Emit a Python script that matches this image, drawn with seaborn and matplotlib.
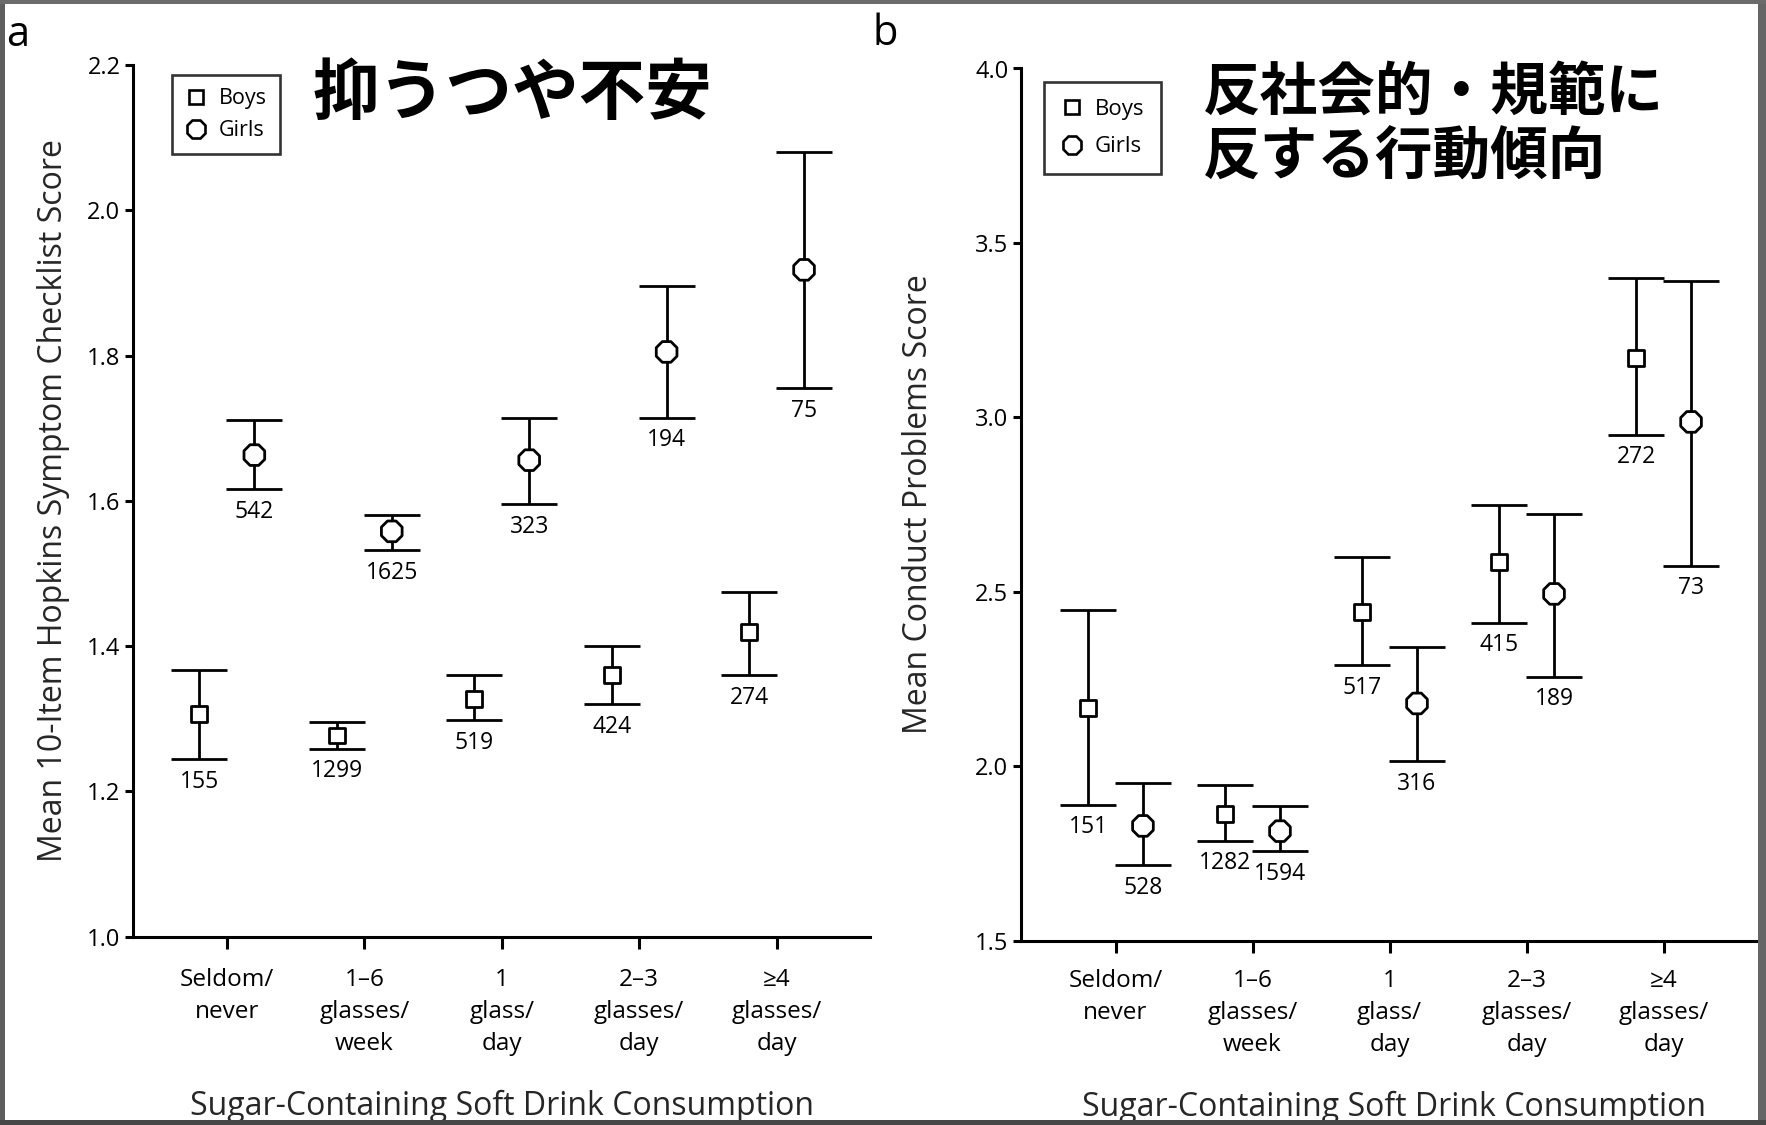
import numpy as np
import pandas as pd
import seaborn as sns
import matplotlib
matplotlib.use('Agg')
import matplotlib.pyplot as plt
from matplotlib.lines import Line2D
from matplotlib.patches import Rectangle

# ---- data ----
categories = ["Seldom/\nnever", "1\u20136\nglasses/\nweek", "1\nglass/\nday",
              "2\u20133\nglasses/\nday", "\u22654\nglasses/\nday"]

# panel a: depression / anxiety (Hopkins checklist)
dep_boys_mean = [1.306, 1.277, 1.327, 1.360, 1.419]
dep_boys_lo = [1.244, 1.259, 1.298, 1.320, 1.360]
dep_boys_hi = [1.367, 1.296, 1.360, 1.400, 1.474]
dep_boys_n = [155, 1299, 519, 424, 274]
dep_girls_mean = [1.663, 1.558, 1.656, 1.805, 1.918]
dep_girls_lo = [1.616, 1.532, 1.595, 1.714, 1.755]
dep_girls_hi = [1.711, 1.580, 1.714, 1.896, 2.080]
dep_girls_n = [542, 1625, 323, 194, 75]

# panel b: conduct problems
con_boys_mean = [2.166, 1.862, 2.441, 2.585, 3.170]
con_boys_lo = [1.890, 1.786, 2.289, 2.411, 2.950]
con_boys_hi = [2.448, 1.946, 2.601, 2.750, 3.400]
con_boys_n = [151, 1282, 517, 415, 272]
con_girls_mean = [1.829, 1.814, 2.180, 2.494, 2.987]
con_girls_lo = [1.716, 1.756, 2.014, 2.256, 2.575]
con_girls_hi = [1.952, 1.885, 2.342, 2.722, 3.392]
con_girls_n = [528, 1594, 316, 189, 73]

W, H = 1766, 1125
OFFSET = {'Boys': -0.2, 'Girls': 0.2}


def build_frame(boys, girls):
    rows = []
    for sex, (m, lo, hi, n) in (('Boys', boys), ('Girls', girls)):
        for i in range(len(categories)):
            rows.append({'cat': i, 'sex': sex, 'xpos': i + OFFSET[sex],
                         'mean': m[i], 'lo': lo[i], 'hi': hi[i], 'n': n[i]})
    return pd.DataFrame(rows)


def draw_panel(ax, df, xpad):
    for sex in ('Boys', 'Girls'):
        d = df[df['sex'] == sex]
        ax.errorbar(d['xpos'], d['mean'],
                    yerr=[d['mean'] - d['lo'], d['hi'] - d['mean']],
                    fmt='none', ecolor='black', elinewidth=2.0,
                    capsize=20, capthick=2.0, zorder=2)
        for _, r in d.iterrows():
            ax.annotate(str(r['n']), (r['xpos'], r['lo']), xytext=(0, -7.5),
                        textcoords='offset points', ha='center', va='top',
                        fontsize=16.5)
    sns.scatterplot(data=df, x='xpos', y='mean', style='sex',
                    markers={'Boys': 's', 'Girls': '8'},
                    size='sex', sizes={'Boys': 130, 'Girls': 260},
                    color='white', edgecolor='black', linewidth=2.0,
                    legend=False, ax=ax, zorder=4)
    ax.set_xticks(range(len(categories)))
    ax.set_xticklabels(categories, linespacing=1.45, fontsize=17.5)
    ax.tick_params(axis='x', length=8.6, width=2.2, pad=xpad)
    ax.tick_params(axis='y', length=6, width=2.2, pad=3, labelsize=17)
    sns.despine(ax=ax)
    ax.set_xlabel('Sugar-Containing Soft Drink Consumption', fontsize=23, va='center')


sns.set_theme(style="ticks")
plt.rcParams['font.family'] = ['Open Sans', 'DejaVu Sans']
plt.rcParams['axes.linewidth'] = 2.2
plt.rcParams['axes.edgecolor'] = 'black'
plt.rcParams['xtick.color'] = 'black'
plt.rcParams['ytick.color'] = 'black'
plt.rcParams['text.color'] = 'black'

fig = plt.figure(figsize=(W / 100, H / 100), dpi=100)
fig.patch.set_facecolor('white')

ax_a = fig.add_axes([133 / W, 1 - 936.7 / H, (870 - 133) / W, (936.7 - 65) / H])
ax_b = fig.add_axes([1021 / W, 1 - 940.7 / H, (1766 - 1021) / W, (940.7 - 68.5) / H])

df_a = build_frame((dep_boys_mean, dep_boys_lo, dep_boys_hi, dep_boys_n),
                   (dep_girls_mean, dep_girls_lo, dep_girls_hi, dep_girls_n))
df_b = build_frame((con_boys_mean, con_boys_lo, con_boys_hi, con_boys_n),
                   (con_girls_mean, con_girls_lo, con_girls_hi, con_girls_n))

draw_panel(ax_a, df_a, xpad=14)
draw_panel(ax_b, df_b, xpad=11.5)

ax_a.set_xlim(-0.683, 4.68)
ax_a.set_ylim(1.0, 2.2)
ax_a.set_yticks(np.arange(1.0, 2.21, 0.2))
ax_a.set_yticklabels([f'{v:.1f}' for v in np.arange(1.0, 2.21, 0.2)])
ax_a.set_ylabel('Mean 10-Item Hopkins Symptom Checklist Score', fontsize=23, va='center')
ax_a.yaxis.set_label_coords(-0.1085, 0.5)
ax_a.xaxis.set_label_coords(0.5, -0.195)

ax_b.set_xlim(-0.69, 4.747)
ax_b.set_ylim(1.5, 4.0)
ax_b.set_yticks(np.arange(1.5, 4.01, 0.5))
ax_b.set_yticklabels([f'{v:.1f}' for v in np.arange(1.5, 4.01, 0.5)])
ax_b.set_ylabel('Mean Conduct Problems Score', fontsize=23, va='center')
ax_b.yaxis.set_label_coords(-0.138, 0.5)
ax_b.xaxis.set_label_coords(0.5, -0.191)

# legends
handles = [Line2D([], [], ls='none', marker='s', ms=10.5, mfc='white', mec='black', mew=1.9),
           Line2D([], [], ls='none', marker='8', ms=14.5, mfc='white', mec='black', mew=1.9)]
for ax, anchor, bpad, lspace, fs in ((ax_a, (171.7, 75), 0.62, 0.5, 15.5),
                                      (ax_b, (1044, 82), 0.75, 0.75, 16)):
    leg = ax.legend(handles, ['Boys', 'Girls'], loc='upper left',
                    bbox_to_anchor=(anchor[0] / W, 1 - anchor[1] / H),
                    bbox_transform=fig.transFigure, borderaxespad=0,
                    frameon=True, fancybox=False, fontsize=fs,
                    borderpad=bpad, labelspacing=lspace, handlelength=1.0,
                    handletextpad=0.55)
    leg.get_frame().set_edgecolor('black')
    leg.get_frame().set_linewidth(1.9)

# Japanese titles
fig.text(313 / W, 1 - 94 / H, '抑うつや不安', fontsize=48, fontweight='bold',
         family=['Noto Sans CJK JP', 'DejaVu Sans'], ha='left', va='center')
fig.text(1203 / W, 1 - 125 / H, '反社会的・規範に\n反する行動傾向', fontsize=41.5,
         fontweight='bold', family=['Noto Sans CJK JP', 'DejaVu Sans'],
         ha='left', va='center', linespacing=1.15)

# panel letters
fig.text(6 / W, 1 - 46 / H, 'a', fontsize=30, ha='left', va='baseline')
fig.text(873 / W, 1 - 45 / H, 'b', fontsize=30, ha='left', va='baseline')

# grey frame of the screenshot
for x0, y0, w, h, c in ((0, 0, 5, H, '#5e5e5e'), (W - 8, 0, 8, H, '#666666'),
                        (0, H - 4, W, 4, '#6b6b6b'), (0, 0, W, 5, '#474747')):
    fig.patches.append(Rectangle((x0 / W, y0 / H), w / W, h / H, transform=fig.transFigure,
                                 facecolor=c, edgecolor='none', zorder=10))

fig.savefig('out.png', dpi=100, facecolor='white')
